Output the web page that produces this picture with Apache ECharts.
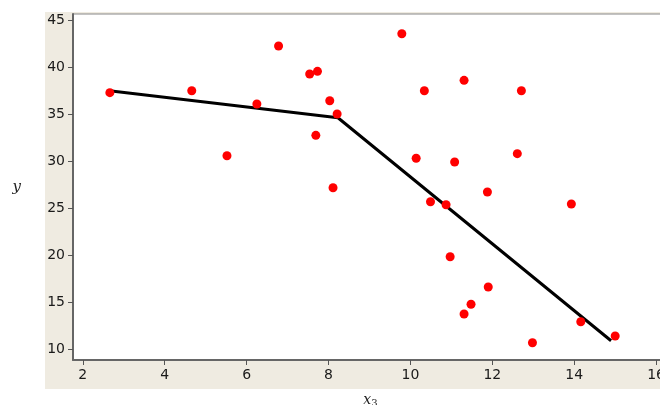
<!DOCTYPE html>
<html>
<head>
<meta charset="utf-8">
<script src="https://cdn.jsdelivr.net/npm/echarts@6/dist/echarts.min.js"></script>
<style>
html, body { margin: 0; padding: 0; background: #fff; }
#main { width: 660px; height: 405px; }
</style>
</head>
<body>
<div id="main"></div>
<script>
// 散点数据 (x3, y)
var xs = [2.66, 4.66, 5.52, 6.25, 6.78, 7.54, 7.73, 7.69, 8.03, 8.21, 8.11, 9.79, 10.14, 10.34, 11.31,
	12.71, 11.08, 12.61, 11.88, 10.49, 10.87, 13.93, 10.97, 11.90, 11.48, 11.31, 14.16, 12.98, 15.0];
var ys = [37.27, 37.48, 30.56, 36.06, 42.23, 39.26, 39.54, 32.73, 36.41, 35.0, 27.16, 43.54, 30.29, 37.48, 38.58,
	37.48, 29.9, 30.78, 26.7, 25.67, 25.35, 25.43, 19.82, 16.6, 14.76, 13.72, 12.9, 10.67, 11.38];
// 分段拟合线
var lineX = [2.7, 8.23, 14.9];
var lineY = [37.45, 34.6, 10.88];
// 刻度
var xTicks = [2, 4, 6, 8, 10, 12, 14, 16];
var yTicks = [10, 15, 20, 25, 30, 35, 40, 45];

function pairs(a, b) {
	var out = [];
	for (var i = 0; i < a.length; i++) out.push([a[i], b[i]]);
	return out;
}

var myChart = echarts.init(document.getElementById('main'));
var labelStyle = { color: '#1a1a1a', fontSize: 14, fontFamily: 'DejaVu Sans' };
var option = {
	animation: false,
	backgroundColor: '#fff',
	graphic: [{
		type: 'rect',
		z: -10,
		shape: { x: 45, y: 12, width: 620, height: 377 },
		style: { fill: '#EFEBE1' }
	}],
	grid: {
		left: 73, top: 14, width: 595, height: 346,
		outerBoundsMode: 'none', containLabel: false,
		show: true, backgroundColor: '#fff', borderColor: '#888', borderWidth: 1
	},
	xAxis: {
		type: 'value', min: 1.76, max: 16.29,
		splitLine: { show: false },
		axisLine: { lineStyle: { color: '#666', width: 2 } },
		axisTick: { customValues: xTicks, length: 5, lineStyle: { color: '#555' } },
		axisLabel: Object.assign({ customValues: xTicks, margin: 8 }, labelStyle),
		name: '{i|x}{s|3}', nameLocation: 'middle', nameGap: 32,
		nameTextStyle: {
			rich: {
				i: { fontFamily: 'DejaVu Serif', fontStyle: 'italic', fontSize: 14, color: '#222' },
				s: { fontFamily: 'DejaVu Serif', fontSize: 10, color: '#222', padding: [6, 0, 0, 0] }
			}
		}
	},
	yAxis: {
		type: 'value', min: 8.83, max: 45.64,
		splitLine: { show: false },
		axisLine: { lineStyle: { color: '#666', width: 2 } },
		axisTick: { customValues: yTicks, length: 5, lineStyle: { color: '#555' } },
		axisLabel: Object.assign({ customValues: yTicks, margin: 8 }, labelStyle),
		name: 'y', nameLocation: 'middle', nameGap: 52, nameRotate: 0,
		nameTextStyle: { fontFamily: 'DejaVu Serif', fontStyle: 'italic', fontSize: 15, color: '#222' }
	},
	series: [{
		type: 'line',
		data: pairs(lineX, lineY),
		symbol: 'none',
		lineStyle: { color: '#000', width: 3 },
		z: 2
	}, {
		type: 'scatter',
		data: pairs(xs, ys),
		symbolSize: 9,
		itemStyle: { color: '#FF0000', opacity: 1 },
		z: 3
	}]
};
myChart.setOption(option);
</script>
</body>
</html>
